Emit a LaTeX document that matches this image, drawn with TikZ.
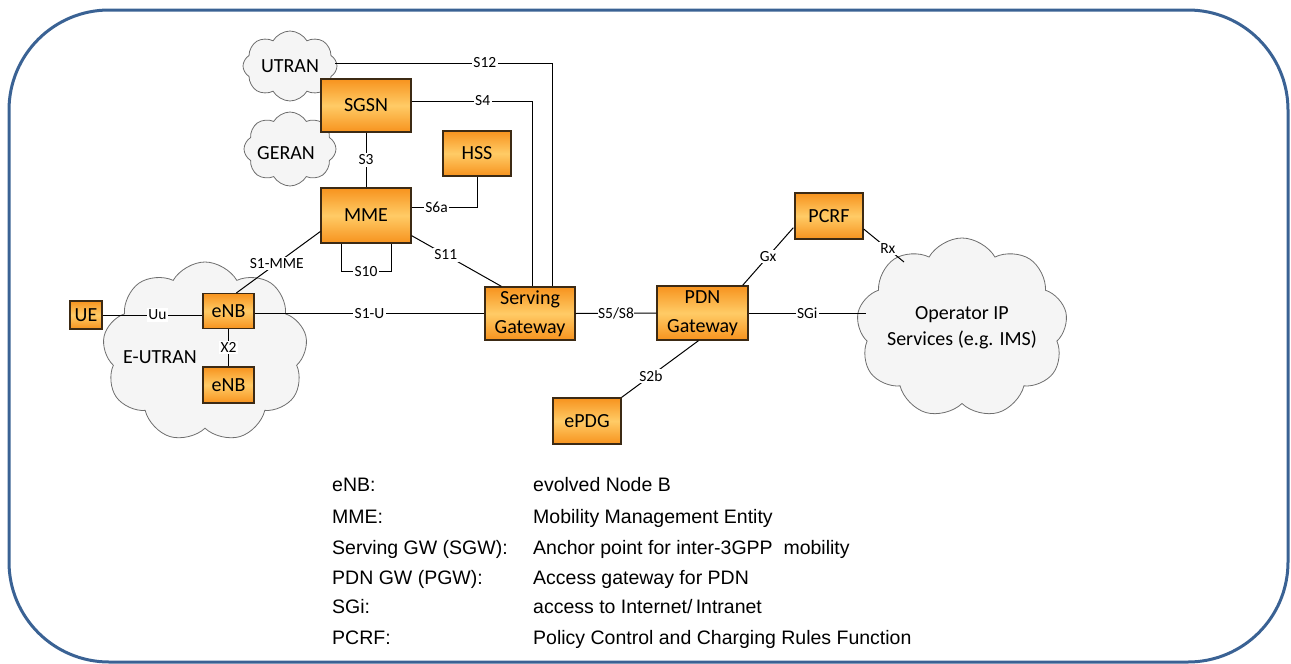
\documentclass[tikz,border=0pt]{standalone}
\usepackage{fontspec}
\setmainfont{Carlito}
\newfontfamily\legfont{Liberation Sans}
\usetikzlibrary{shapes.symbols,calc}
\definecolor{boxedge}{HTML}{F7931E}
\definecolor{boxmid}{HTML}{FFCB66}
\definecolor{boxline}{HTML}{3C2A14}
\definecolor{cloudfill}{HTML}{F5F5F5}
\definecolor{cloudline}{HTML}{6E6E6E}
\definecolor{frameblue}{HTML}{3A6294}
\tikzset{
  box/.style={draw=boxline, line width=1.3pt, top color=boxedge, bottom color=boxedge, middle color=boxmid,
    font=\fontsize{20}{29}\selectfont, align=center, inner sep=0pt},
  cloudnode/.style={cloud, cloud puffs=9, cloud puff arc=120, cloud ignores aspect, draw=cloudline, fill=cloudfill,
    line width=0.8pt, inner sep=0pt, font=\fontsize{20}{26}\selectfont, align=center},
  lbl/.style={fill=white, inner sep=1.5pt, font=\fontsize{15.5}{17}\selectfont},
  link/.style={line width=1pt, draw=black},
  leg/.style={anchor=base west, inner sep=0pt, font=\legfont\fontsize{19.5}{22}\selectfont}
}
\begin{document}
\begin{tikzpicture}[x=1pt,y=-1pt]
\useasboundingbox (0,0) rectangle (1291,664);
\clip (0,0) rectangle (1291,664);
\draw[line width=3pt, frameblue, rounded corners=100pt] (9,10) rectangle (1288,662);

% clouds
\node[cloudnode, cloud puffs=8, minimum width=94, minimum height=70] (utran) at (290,66) {UTRAN};
\node[cloudnode, cloud puffs=8, minimum width=92, minimum height=74] (geran) at (290,149) {};
\node[font=\fontsize{20}{26}\selectfont] at (286,153) {GERAN};
\node[cloudnode, minimum width=205, minimum height=180] (eutran) at (205,352) {};
\node[font=\fontsize{20}{26}\selectfont] (eutranlbl) at (160,357) {E-UTRAN};
\node[cloudnode, minimum width=205, minimum height=180] (ops) at (962,328) {Operator IP\\Services (e.g. IMS)};

% boxes
\node[box, minimum width=90, minimum height=53] (sgsn) at (366,105.5) {SGSN};
\node[box, minimum width=68, minimum height=45] (hss) at (477,153.5) {HSS};
\node[box, minimum width=90, minimum height=55] (mme) at (366,215.5) {MME};
\node[box, minimum width=90, minimum height=53] (sgw) at (530,313.5) {Serving\\Gateway};
\node[box, minimum width=91, minimum height=54] (pgw) at (702.5,313) {PDN\\Gateway};
\node[box, minimum width=68, minimum height=46] (pcrf) at (829,216) {PCRF};
\node[box, minimum width=68, minimum height=46] (epdg) at (587,421) {ePDG};
\node[box, minimum width=51, minimum height=35] (enb1) at (228.5,311) {eNB};
\node[box, minimum width=51, minimum height=36] (enb2) at (228.5,385) {eNB};
\node[box, minimum width=32, minimum height=28] (ue) at (86,315) {UE};

% connectors
\coordinate (s12end) at ($(sgw.north)+(22,0)$);
\coordinate (s4end) at ($(sgw.north)+(2,0)$);
\coordinate (s12start) at ($(utran.east)+(-2,-3)$);
\draw[link] (s12start) -- node[lbl, pos=0.69]{S12} (s12start -| s12end) -- (s12end);
\coordinate (s4start) at ($(sgsn.east)+(0,-4.5)$);
\draw[link] (s4start) -- node[lbl, pos=0.59]{S4} (s4start -| s4end) -- (s4end);
\draw[link] (sgsn.south) -- node[lbl]{S3} (mme.north);
\coordinate (s6start) at ($(mme.east)+(0,-8.5)$);
\draw[link] (s6start) -- node[lbl, pos=0.38]{S6a} (s6start -| hss.south) -- (hss.south);
\draw[link] ($(mme.south)+(-25,0)$) -- ++(0,28) -- node[lbl]{S10} ++(50,0) -- ++(0,-28);
\draw[link] ($(mme.south east)+(0,-8)$) -- node[lbl, pos=0.38]{S11} ($(sgw.north west)+(17,0)$);
\draw[link] ($(mme.west)+(0,16)$) -- node[lbl, pos=0.52]{S1-MME} ($(enb1.north)+(8,0)$);
\draw[link] (enb1.east |- sgw.west) -- node[lbl]{S1-U} (sgw.west);
\draw[link] (ue.east) -- node[lbl, pos=0.55]{Uu} (enb1.west |- ue.east);
\draw[link] (enb1.south) -- node[lbl]{X2} (enb2.north);
\draw[link] (sgw.east) -- node[lbl, inner sep=0.5pt]{S5/S8} (pgw.west);
\coordinate (opsw) at ($(ops.center)+(-96,-15)$);
\draw[link] (pgw.east) -- node[lbl]{SGi} (pgw.east -| opsw);
\draw[link] ($(pgw.north east)+(-6,0)$) -- node[lbl]{Gx} ($(pcrf.south west)+(-1,-12)$);
\coordinate (opsrx) at ($(ops.center)+(-58,-66)$);
\draw[link] ($(pcrf.east)+(0,13)$) -- node[lbl, pos=0.6]{Rx} (opsrx);
\draw[link] ($(pgw.south)+(-4,0)$) -- node[lbl, pos=0.62]{S2b} (epdg.north east);

% legend
\node[leg] (l1a) at (332,491.5) {eNB:};
\node[leg] (l1b) at (533,491.5) {evolved Node B};
\node[leg] (l2a) at (332,523) {MME:};
\node[leg] (l2b) at (533,523) {Mobility Management Entity};
\node[leg] (l3a) at (332,554) {Serving GW (SGW):};
\node[leg] (l3b) at (533,554) {Anchor point for inter-3GPP\ \ mobility};
\node[leg] (l4a) at (332,584) {PDN GW (PGW):};
\node[leg] (l4b) at (533,584) {Access gateway for PDN};
\node[leg] (l5a) at (332,613.5) {SGi:};
\node[leg] (l5b) at (533,613.5) {access to Internet/\,Intranet};
\node[leg] (l6a) at (332,644) {PCRF:};
\node[leg] (l6b) at (533,644) {Policy Control and Charging Rules Function};
\end{tikzpicture}
\end{document}
